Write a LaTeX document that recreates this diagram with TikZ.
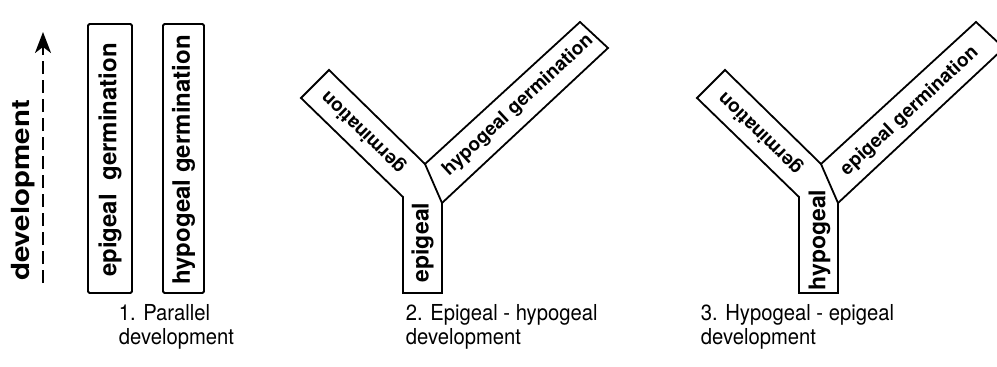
\documentclass[tikz,border=0pt]{standalone}
\usepackage{fontspec}
\setmainfont{TeX Gyre Heros}
\newfontfamily\labfont{TeX Gyre Heros}
\newfontfamily\bigfont{TeX Gyre Heros}[FakeStretch=1.18]
\newfontfamily\capfont{TeX Gyre Heros}[FakeStretch=0.92]
\usetikzlibrary{arrows.meta}
\begin{document}
\begin{tikzpicture}[x=1pt,y=-1pt,line width=1.8pt,line join=miter,
  boxlab/.style={font=\labfont\bfseries\fontsize{24}{28}\selectfont,inner sep=0pt},
  stemlab/.style={font=\labfont\bfseries\fontsize{23}{27}\selectfont,inner sep=0pt},
  armlab/.style={font=\labfont\bfseries\fontsize{19}{23}\selectfont,inner sep=0pt},
  caption/.style={font=\capfont\fontsize{22}{25}\selectfont,inner sep=0pt,anchor=base west},
  colbox/.style={draw,rounded corners=1.5pt,rotate=90,inner sep=0pt,minimum height=#1,minimum width=269pt}]
\useasboundingbox (0,0) rectangle (997,367);

% axis arrow and label
\coordinate (ab) at (43,283);
\coordinate (at) at (43,32);
\draw[line width=2.2pt,dash pattern=on 13pt off 6pt,-{Stealth[length=21pt,width=16pt,inset=6pt]}] (ab) -- (at);
\node[font=\bigfont\bfseries\fontsize{25}{29}\selectfont,rotate=90,inner sep=0pt] (dev) at (23,190.5) {development};

% figure 1
\node[colbox=44pt] (b1) at (110,158.5) {};
\node[colbox=41pt] (b2) at (183.5,158.5) {};
\node[boxlab,rotate=90] (t1) at (110,160) {epigeal\ \ germination};
\node[boxlab,rotate=90] (t2) at (183.5,160) {hypogeal germination};

% figure 2
\begin{scope}
\coordinate (sbl) at (403,293);
\coordinate (stl) at (403,197);
\coordinate (la1) at (301,98);
\coordinate (la2) at (329,70);
\coordinate (j) at (425,164);
\coordinate (ra1) at (580,22);
\coordinate (ra2) at (608,48);
\coordinate (str) at (442,203);
\coordinate (sbr) at (442,293);
\draw (sbl) -- (stl) -- (la1) -- (la2) -- (j) -- (ra1) -- (ra2) -- (str) -- (sbr) -- cycle;
\draw (j) -- (str);
\node[stemlab,rotate=90] (s2) at (422.5,242.5) {epigeal};
\node[armlab,rotate=135.7] (l2) at (363.5,132) {germination};
\node[armlab,rotate=42.8,anchor=west] (r2) at (445,173) {hypogeal germination};
\end{scope}

% figure 3
\begin{scope}[shift={(396,0)}]
\coordinate (sbl3) at (403,293);
\coordinate (stl3) at (403,197);
\coordinate (la13) at (301,98);
\coordinate (la23) at (329,70);
\coordinate (j3) at (425,164);
\coordinate (ra13) at (580,22);
\coordinate (ra23) at (608,48);
\coordinate (str3) at (442,203);
\coordinate (sbr3) at (442,293);
\draw (sbl3) -- (stl3) -- (la13) -- (la23) -- (j3) -- (ra13) -- (ra23) -- (str3) -- (sbr3) -- cycle;
\draw (j3) -- (str3);
\node[stemlab,rotate=90] (s3) at (423.5,240) {hypogeal};
\node[armlab,rotate=135.7] (l3) at (364.5,133) {germination};
\node[armlab,rotate=42.8,anchor=west] (r3) at (447,173) {epigeal germination};
\end{scope}

% captions
\node[caption] (c1a) at (118,320) {1. Parallel};
\node[caption] (c1b) at (118,344) {development};
\node[caption] (c2a) at (405,320) {2. Epigeal - hypogeal};
\node[caption] (c2b) at (405,344) {development};
\node[caption] (c3a) at (700,320) {3. Hypogeal - epigeal};
\node[caption] (c3b) at (700,344) {development};
\end{tikzpicture}
\end{document}
